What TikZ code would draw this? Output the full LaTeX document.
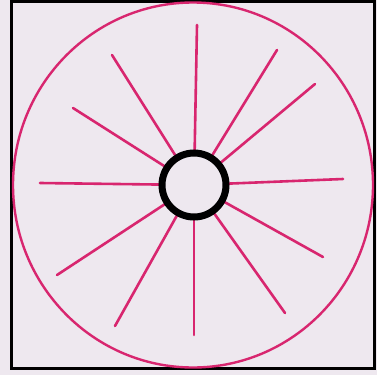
\documentclass[tikz,border=0pt]{standalone}
\definecolor{paper}{HTML}{EEE8EF}
\definecolor{pinkline}{HTML}{D8266F}
\begin{document}
\begin{tikzpicture}[x=1pt,y=-1pt,
  spoke/.style={pinkline,line width=2.6pt,line cap=round},
  rim/.style={pinkline,line width=2.4pt},
  hub/.style={black,line width=7pt,fill=paper},
  frame/.style={black,line width=3pt}]
\fill[paper] (0,0) rectangle (377,375);
\useasboundingbox (0,0) rectangle (377,375);
\draw[frame] (11,1.5) -- (374,1.5) -- (374,368) -- (11,368) -- cycle;
\coordinate (c) at (194,185);
\draw[rim] (193,185) ellipse (180 and 182.5);
\foreach \p in {(197,25),(112,55),(73,108),(40,183),(57,275),(115,326),
                (194,335),(285,313),(323,257),(343,179),(315,84),(277,50)}
  \draw[spoke] (c) -- \p;
\draw[hub] (c) circle (32);
\end{tikzpicture}
\end{document}
